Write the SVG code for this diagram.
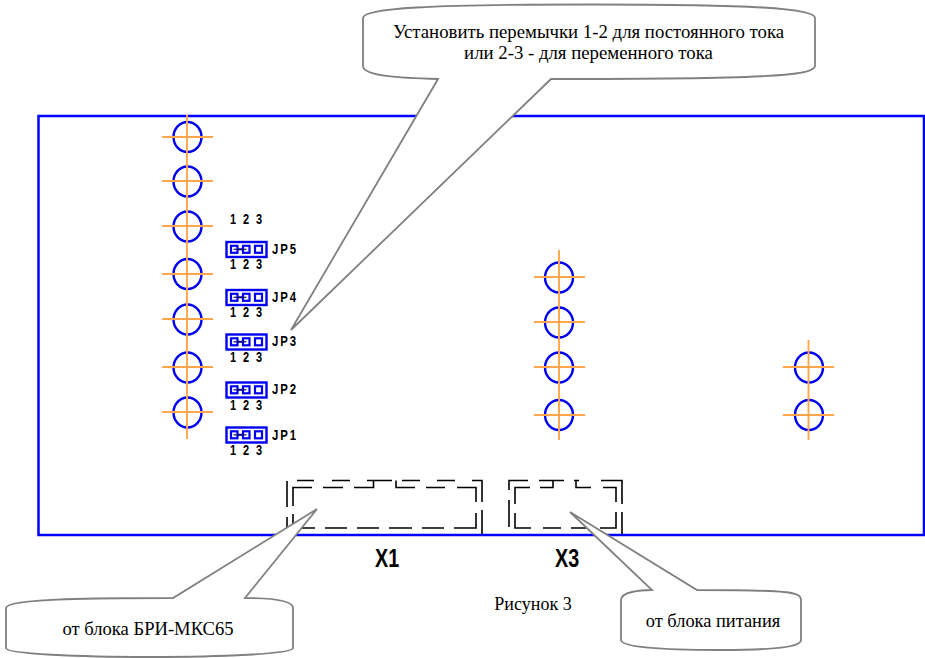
<svg xmlns="http://www.w3.org/2000/svg" xmlns:xlink="http://www.w3.org/1999/xlink" width="925" height="658" viewBox="0 0 925 658">
<style>
.hole{fill:none;stroke:#0000f0;stroke-width:2.4}
.ax{stroke:#ffa64d;stroke-width:1.9;fill:none}
.jb{fill:none;stroke:#0000f0;stroke-width:2.4}
.jp{fill:none;stroke:#0000f0;stroke-width:2.2}
.n{font:bold 14.500px "Liberation Sans",Arial,sans-serif;fill:#000}
.jl{font:bold 15px "Liberation Sans",Arial,sans-serif;fill:#000;letter-spacing:2.500px}
.x{font:bold 26px "Liberation Sans",Arial,sans-serif;fill:#000}
.t{font-family:"Liberation Serif","Times New Roman",serif;fill:#000;text-anchor:middle}
.call{fill:#fff;stroke:#808080;stroke-width:1.8}
.dash{fill:none;stroke:#000;stroke-width:1.6}
</style>
<defs>
<g id="jump">
<rect class="jb" x="0" y="0" width="40" height="15"/>
<rect class="jp" x="4.500" y="3.800" width="6.500" height="7"/>
<rect class="jp" x="16.500" y="3.800" width="6.500" height="7"/>
<rect class="jp" x="28.500" y="3.800" width="7" height="7"/>
<path d="M11 7.300H16.500" stroke="#0000f0" stroke-width="2"/>
<path d="M7 7.300H20" stroke="#101060" stroke-width="1.200"/>
<text class="n" transform="translate(3.500 27) scale(.76 1)">1</text>
<text class="n" transform="translate(16.500 27) scale(.76 1)">2</text>
<text class="n" transform="translate(29.500 27) scale(.76 1)">3</text>
</g>
</defs>
<g id="board"><rect x="38.500" y="116" width="885.500" height="419" fill="none" stroke="#0000ff" stroke-width="2.500"/></g>
<g id="holes-left">
<ellipse class="hole" cx="187.500" cy="137" rx="14" ry="15"/><ellipse class="hole" cx="187.500" cy="181.500" rx="14" ry="15"/><ellipse class="hole" cx="187.500" cy="226.500" rx="14" ry="15"/><ellipse class="hole" cx="187.500" cy="274" rx="14" ry="15"/><ellipse class="hole" cx="187.500" cy="319.500" rx="14" ry="15"/><ellipse class="hole" cx="187.500" cy="367.500" rx="14" ry="15"/><ellipse class="hole" cx="187.500" cy="412.500" rx="14" ry="15"/>
<path class="ax" d="M187 115V439M162 137H213M162 181H213M162 226H213M162 274H213M162 319H213M162 367H213M162 412H213"/>
</g>
<g id="holes-middle">
<ellipse class="hole" cx="559" cy="277.500" rx="14" ry="15"/><ellipse class="hole" cx="559" cy="322.500" rx="14" ry="15"/><ellipse class="hole" cx="559" cy="367.500" rx="14" ry="15"/><ellipse class="hole" cx="559" cy="415" rx="14" ry="15"/>
<path class="ax" d="M559 250V440M534 277H585M534 322H585M534 367H585M534 415H585"/>
</g>
<g id="holes-right">
<ellipse class="hole" cx="809" cy="367.500" rx="14" ry="15"/><ellipse class="hole" cx="809" cy="415" rx="14" ry="15"/>
<path class="ax" d="M808.500 340V440M783 367H834M783 415H834"/>
</g>
<g id="jp5">
<text class="n" transform="translate(230 224) scale(.76 1)">1</text>
<text class="n" transform="translate(243 224) scale(.76 1)">2</text>
<text class="n" transform="translate(256 224) scale(.76 1)">3</text>
<use xlink:href="#jump" href="#jump" x="226.500" y="242"/><text class="jl" transform="translate(272 254) scale(.76 1)">JP5</text></g>
<g id="jp4"><use xlink:href="#jump" href="#jump" x="226.500" y="290"/><text class="jl" transform="translate(272 301.500) scale(.76 1)">JP4</text></g>
<g id="jp3"><use xlink:href="#jump" href="#jump" x="226.500" y="334.500"/><text class="jl" transform="translate(272 346) scale(.76 1)">JP3</text></g>
<g id="jp2"><use xlink:href="#jump" href="#jump" x="226.500" y="382.500"/><text class="jl" transform="translate(272 394) scale(.76 1)">JP2</text></g>
<g id="jp1"><use xlink:href="#jump" href="#jump" x="226.500" y="427.500"/><text class="jl" transform="translate(272 440) scale(.76 1)">JP1</text></g>
<g id="x1">
<path class="dash" d="M287 481V507M287 517V535M297 480.500H314M332 480.500H350M367 480.500H392M402 480.500H420M437 480.500H455M472 480.500H482V502M482 510V534"/>
<path class="dash" d="M293 506V487.500H312M323 487.500H343M354 487.500H373.500V480.500M396 480.500V487.500H415M426 487.500H445M457 487.500H476V502M476 513V528H454M444 528H422M412 528H389M379 528H357M347 528H325M315 528H300M293 514V528"/>
<text class="x" transform="translate(375 567) scale(.76 1)">X1</text>
</g>
<g id="x3">
<path class="dash" d="M509 490V480.500H528M539 480.500H564M574 480.500H579M509 500V527M601 480.500H622V504M622 512V534"/>
<path class="dash" d="M515 504V487.500H530M540 487.500H553V480.500M576 480.500V487.500H591M603 487.500H616V502M616 512V528H600M586 528H571M561 528H543M531 528H515V513"/>
<text class="x" transform="translate(555 567) scale(.76 1)">X3</text>
</g>
<g id="connectors">
<path class="call" d="M438 79C400 78 363 76 363 66V18C363 8 430 4.500 590 4.500C750 4.500 815 8 815 18V66C815 76 760 79 551 79L291 330Z"/>
<path class="call" d="M173 598C110 598 6 598 6 608V648C6 654 80 657 150 657C220 657 293 654 293 648V608C293 600 270 598 245 598L317 509Z"/>
<path class="call" d="M652 590C640 590 621 592 621 600V640C621 647 660 650 720 650C775 650 801 647 801 640V600C801 592 790 590 697 590L570 512Z"/>
</g>
<g id="labels">
<text class="t" font-size="18.800" x="588.500" y="38">Установить перемычки 1-2 для постоянного тока</text>
<text class="t" font-size="18.800" x="588.500" y="59">или 2-3 - для переменного тока</text>
<text class="t" font-size="18.600" x="148" y="635">от блока БРИ-МКС65</text>
<text class="t" font-size="18.400" x="713" y="627">от блока питания</text>
<text class="t" font-size="18" x="533" y="610">Рисунок 3</text>
</g>
</svg>
